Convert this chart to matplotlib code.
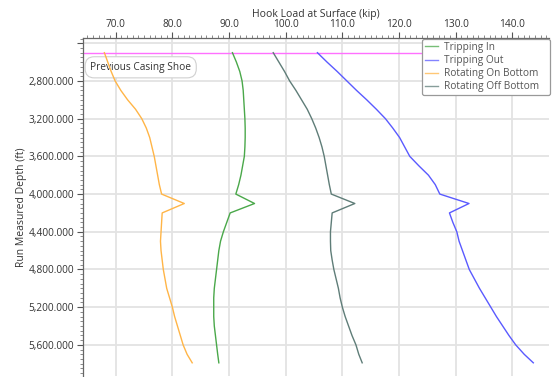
import matplotlib
matplotlib.use("Agg")
import matplotlib.pyplot as plt
from matplotlib.ticker import MultipleLocator, FuncFormatter

# Measured depth stations (ft)
depth = [2500, 2600, 2700, 2800, 2900, 3000, 3100, 3200, 3300, 3400, 3500, 3600,
         3700, 3800, 3900, 4000, 4100, 4200, 4300, 4400, 4500, 4600, 4700, 4800,
         4900, 5000, 5100, 5200, 5300, 5400, 5500, 5600, 5700, 5790]

# Hook load at surface (kip) for each operation
tripping_in = [90.6, 91.3, 91.9, 92.3, 92.5, 92.6, 92.7, 92.8, 92.85, 92.85, 92.8, 92.7,
               92.4, 92.1, 91.7, 91.2, 94.5, 90.2, 89.6, 89.0, 88.5, 88.2, 88.0, 87.8,
               87.6, 87.4, 87.3, 87.3, 87.3, 87.4, 87.6, 87.8, 88.0, 88.2]
tripping_out = [105.6, 107.3, 109.1, 110.8, 112.5, 114.3, 116.0, 117.6, 118.9, 120.1, 121.0, 121.9,
                123.5, 125.2, 126.4, 127.2, 132.35, 128.9, 129.5, 130.2, 130.6, 131.2, 131.8, 132.4,
                133.3, 134.2, 135.2, 136.2, 137.2, 138.3, 139.4, 140.6, 142.1, 143.7]
rotating_on = [68.0, 68.6, 69.2, 69.9, 70.9, 72.1, 73.5, 74.6, 75.4, 76.0, 76.4, 76.8,
               77.1, 77.4, 77.7, 78.1, 82.1, 78.2, 78.1, 78.0, 77.9, 78.0, 78.2, 78.4,
               78.7, 79.0, 79.5, 80.0, 80.4, 80.9, 81.4, 81.9, 82.6, 83.5]
rotating_off = [97.8, 98.8, 99.8, 100.7, 101.8, 102.8, 103.8, 104.6, 105.3, 105.9, 106.4, 106.8,
                107.1, 107.4, 107.7, 108.05, 112.2, 108.2, 108.05, 107.9, 107.9, 107.95, 108.2, 108.5,
                108.9, 109.3, 109.6, 110.0, 110.5, 111.1, 111.7, 112.4, 112.9, 113.5]

series_names = ["Tripping In", "Tripping Out", "Rotating On Bottom", "Rotating Off Bottom"]
series_colors = ["#4aa84a", "#5a5aff", "#ffb547", "#5f7d78"]

casing_shoe_depth = 2500
casing_shoe_label = "Previous Casing Shoe"

plt.rcParams["font.family"] = ["Open Sans", "DejaVu Sans"]

fig = plt.figure(figsize=(5.53, 3.77), dpi=100)
ax = fig.add_axes([83.3 / 553, 1 / 377, (549 - 83.3) / 553, (376 - 37.7) / 377])

for vals, name, col in zip([tripping_in, tripping_out, rotating_on, rotating_off],
                           series_names, series_colors):
    ax.plot(vals, depth, color=col, lw=1.0, label=name, zorder=3)

ax.axhline(casing_shoe_depth, color="#ff70ff", lw=1.0, zorder=2)
ax.text(65.5, 2655, casing_shoe_label, fontsize=7.3, color="#333333", va="center", ha="left",
        bbox=dict(boxstyle="round,pad=0.5,rounding_size=0.9", fc="white", ec="#d0d0d0", lw=0.8),
        zorder=2.5)

ax.set_xlim(64.28, 146.47)
ax.set_ylim(5930, 2341)

ax.xaxis.set_ticks_position("top")
ax.xaxis.set_label_position("top")
ax.xaxis.set_major_locator(MultipleLocator(10))
ax.xaxis.set_minor_locator(MultipleLocator(1))
ax.xaxis.set_major_formatter(FuncFormatter(lambda v, p: f"{v:.1f}"))
ax.yaxis.set_major_locator(MultipleLocator(400))
ax.yaxis.set_minor_locator(MultipleLocator(50))
ax.yaxis.set_major_formatter(FuncFormatter(lambda v, p: "" if v < 2700 else f"{v:,.3f}"))

ax.tick_params(axis="both", which="major", labelsize=7.3, labelcolor="#333333",
               color="#555555", length=4.5, width=0.8, pad=2)
ax.tick_params(axis="x", which="major", pad=0.8)
ax.tick_params(axis="both", which="minor", color="#777777", length=2.5, width=0.6)

ax.set_xlabel("Hook Load at Surface (kip)", fontsize=7.5, color="#333333", labelpad=2)
ax.set_ylabel("Run Measured Depth (ft)", fontsize=7.5, color="#333333", labelpad=1)

for s in ["right", "bottom"]:
    ax.spines[s].set_visible(False)
for s in ["left", "top"]:
    ax.spines[s].set_color("#666666")
    ax.spines[s].set_linewidth(0.9)

ax.grid(True, which="major", color="#e3e3e3", lw=1.3, zorder=0)
ax.set_axisbelow(True)

leg = ax.legend(loc="upper left",
                bbox_to_anchor=(421.7 / 553, 1 - 91 / 377, (550 - 421.7) / 553, 52 / 377),
                bbox_transform=fig.transFigure, mode="expand", borderaxespad=0, fontsize=7.3,
                handlelength=1.35, handletextpad=0.55, labelspacing=0.2,
                borderpad=0.3, frameon=True, fancybox=True, framealpha=1)
leg.get_frame().set_edgecolor("#999999")
leg.get_frame().set_linewidth(0.9)
for t in leg.get_texts():
    t.set_color("#555555")
for h in leg.get_lines():
    h.set_alpha(0.75)

fig.savefig("out.png", dpi=100)
